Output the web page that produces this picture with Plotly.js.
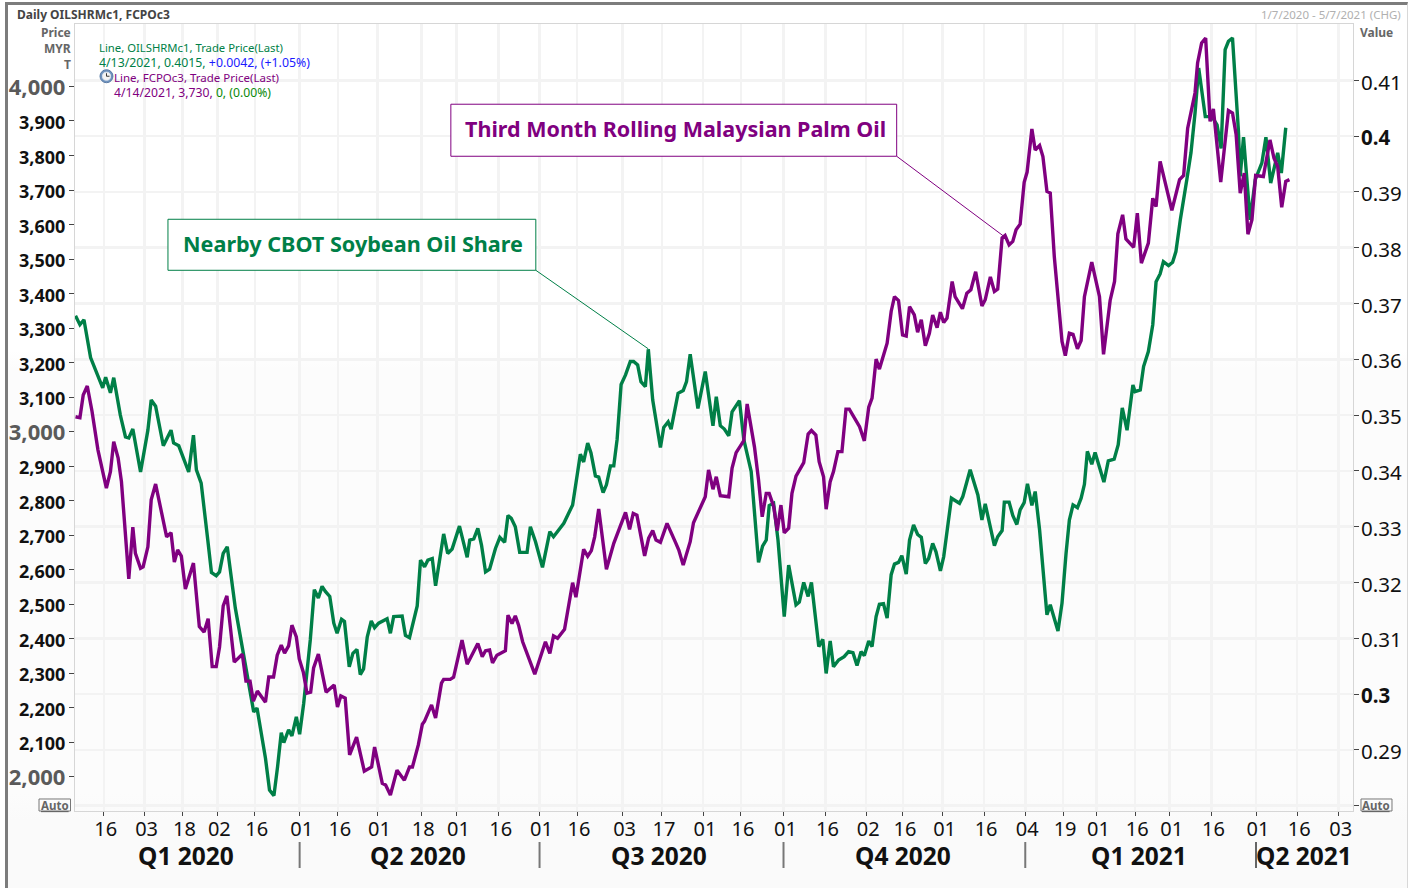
<!DOCTYPE html>
<html>
<head>
<meta charset="utf-8">
<title>OILSHRMc1 vs FCPOc3</title>
<script src="https://cdn.plot.ly/plotly-3.0.1.min.js"></script>
<style>
html,body{margin:0;padding:0;background:#fff;width:1419px;height:888px;overflow:hidden}
#frame{position:absolute;left:5px;top:2px;width:1399px;height:886px;box-sizing:content-box;border-top:3px solid #7c7c7c;border-left:3px solid #7c7c7c;border-right:1px solid #d8d8d8;
background:linear-gradient(#fff 0,#fff 39%,#fcfcfc 41%,#fcfcfc 89%,#fafafa 92%,#fafafa 100%)}
#chart{position:absolute;left:0;top:0;width:1419px;height:888px}
</style>
</head>
<body>
<div id="frame"></div>
<div id="chart"></div>
<script>
// x values are positions along the trading-session axis (0 = 1/7/2020)
const soyDays = [0,1.2,2.3,4.1,7.4,8.2,9.5,10.4,12.2,13.6,14.5,15.6,17.7,19.7,20.6,21.8,23.9,26,26.7,28.1,30.8,32.1,32.9,34.2,36,37,38.3,39.2,40.2,41.3,43.5,45.6,48.5,49.4,50.8,51.7,52.8,54,55,56,56.7,58,58.9,60.1,61,62.1,63.9,65,66.1,67.1,68,69.2,70.3,71.2,72.4,73.2,74.5,75.5,76.6,77.5,78.4,79.4,80.5,81.4,82.5,84.8,85.7,86.6,88.9,89.8,90.9,93,93.9,95,95.9,97.1,98,99.3,100.2,101.3,102.5,104.5,106.6,107.3,108.4,109.5,110.5,111.6,112.7,114.3,115.5,116.8,117.7,118.6,119.7,120.9,122.9,123.8,125.2,127.1,129.1,130.1,132.9,135.3,137.4,138.3,139.4,140.3,141.5,142.4,143.6,144.5,145.6,146.5,147.4,148.5,149.7,151,151.9,153,153.9,155.1,155.9,157.1,159.2,160.1,161.3,162.1,164,165.4,166.3,167.3,169.4,171.4,173.5,174.4,175.5,176.6,177.8,178.7,180.7,181.9,183.9,185.9,187,188,188.8,190,191.2,192.9,194.1,196.1,197,198.2,199.4,200.3,202.3,203.4,204.3,205.4,206.3,207.7,209.2,210.4,211.6,212.7,213.8,214.7,215.9,216.8,217.9,218.8,219.9,220.9,222,222.9,224,224.9,226.1,227,228.1,229.2,230.2,231.3,232.2,233.3,234.2,235.4,236.3,237.5,238.4,239.6,240.6,241.5,243.5,245.6,246.7,247.6,250.1,251,252.2,252.8,254.1,255.1,256.2,257.1,258.2,259.1,260.3,261.2,262.4,264.4,265.3,267.4,268.5,269.6,270.5,271.5,272.7,273.7,274.6,275.4,276.6,277.5,278.9,279.9,281.1,282.7,283.8,284.9,286.2,287.8,288.4,289.8,290.7,292,293.2,294.1,295.2,296.1,297.5,298.6,299.5,300.7,302.5,303.6,304.7,305.7,307.5,309.3,310.7,311.8,312.9,313.8,314.9,316.5,317,317.9,319.7,321.1,322.9,324,325.3,327.2,328.2,329.4];
const soyShare = [0.3678,0.3662,0.3671,0.3603,0.3549,0.3568,0.354,0.3567,0.35,0.3461,0.3459,0.3475,0.3398,0.3473,0.3527,0.3516,0.3445,0.3473,0.345,0.3445,0.3398,0.3464,0.3402,0.3378,0.3276,0.3218,0.3212,0.3219,0.3252,0.3264,0.3154,0.3073,0.2968,0.2975,0.2918,0.2885,0.2828,0.2818,0.287,0.2931,0.2913,0.2936,0.2925,0.2959,0.2928,0.2983,0.3097,0.3187,0.3172,0.3193,0.3184,0.3175,0.3127,0.3109,0.3134,0.313,0.3049,0.3073,0.308,0.3035,0.3045,0.3102,0.3131,0.3119,0.3127,0.3135,0.3109,0.3139,0.314,0.3105,0.3101,0.3158,0.324,0.3228,0.324,0.3243,0.3194,0.3252,0.3287,0.3252,0.326,0.3301,0.3245,0.3276,0.3278,0.3297,0.3267,0.3219,0.3224,0.3261,0.3281,0.3272,0.332,0.3315,0.33,0.3254,0.3254,0.33,0.3273,0.3227,0.3291,0.3282,0.3306,0.3339,0.343,0.3416,0.345,0.3432,0.3391,0.3389,0.3361,0.3375,0.3409,0.3409,0.3456,0.3555,0.3572,0.3596,0.3596,0.359,0.356,0.3551,0.3618,0.3527,0.3442,0.3478,0.3488,0.3475,0.3539,0.3544,0.356,0.3609,0.3512,0.3578,0.3481,0.3533,0.3481,0.3475,0.3463,0.3506,0.3526,0.3456,0.3399,0.3236,0.3265,0.3276,0.3338,0.3342,0.3276,0.3139,0.3231,0.316,0.3165,0.32,0.3175,0.32,0.3085,0.3098,0.3037,0.3095,0.3049,0.3061,0.3067,0.3076,0.3074,0.3051,0.3076,0.3069,0.3095,0.3085,0.3139,0.3161,0.3162,0.3136,0.3214,0.3233,0.3236,0.3248,0.3215,0.3276,0.3303,0.3286,0.3281,0.3234,0.3243,0.327,0.3255,0.3221,0.3246,0.3306,0.3351,0.3346,0.3342,0.3354,0.3402,0.3357,0.3312,0.3341,0.3266,0.3282,0.3293,0.3344,0.3344,0.332,0.3304,0.333,0.3343,0.3377,0.3338,0.3363,0.3294,0.3142,0.316,0.3113,0.3163,0.3252,0.3312,0.3339,0.3334,0.3351,0.3376,0.3435,0.3412,0.3433,0.3399,0.338,0.3418,0.3421,0.3447,0.3513,0.3473,0.3554,0.3542,0.3545,0.3587,0.3614,0.3662,0.3739,0.3753,0.3775,0.3768,0.3774,0.3793,0.385,0.3923,0.397,0.4041,0.4122,0.4035,0.4035,0.402,0.3978,0.4155,0.417,0.4176,0.4011,0.3928,0.3998,0.385,0.3922,0.3952,0.3998,0.3916,0.397,0.3934,0.4015];
const palmDays = [0,1.2,2.1,3.2,4.5,6.1,8.4,9.5,10.4,11.6,12.5,13.6,14.5,15.6,16.3,17.7,18.4,19.7,20.6,21.8,24,24.8,26,26.9,27.8,28.8,29.9,32.1,33.7,35,36.1,37.2,38.3,39.2,40.2,41.2,43.2,45.4,46.4,47.5,48.4,49.5,51.7,52.6,53.9,54.9,56,56.9,58,58.9,60.1,60.9,62,63,64,64.8,66.1,68.2,70.4,71.3,72.2,73.4,74.6,75.6,76.5,78.6,80.6,81.4,83.5,84.4,85.7,87.5,89.5,90.9,91.7,93.3,94.4,95,96.9,98,99.6,100.2,102,102.9,105.2,106.6,109.5,110.7,111.6,112.7,113.5,114.7,117,117.7,118.8,119.7,120.6,121.7,123.3,125,127.9,129.1,130.1,131.2,133.1,134.2,135.3,136.2,137.4,138.3,139.4,140.4,141.3,142.4,144.5,146.5,149.7,150.8,151.8,152.8,154.9,156,157.1,158,159.2,161,163.3,164.2,165.4,167.3,168.2,171.4,172.3,173.5,174.4,175.5,177.8,178.7,179.8,181.9,182.8,184.8,185.9,186.9,188,188.8,190,191,192,192.9,194.1,195,196.1,198.2,199.4,200.3,201.5,202.4,203.6,204.3,205.4,206.3,207.5,208.6,209.7,210.6,213.4,214.7,215.9,216.8,217.9,218.8,220.9,222,222.9,224,225.1,226.1,227,228.3,229.2,230.2,231.3,232.4,233.3,234.5,235.4,236.3,237.2,238.6,239.4,241.4,242.6,243.7,245,246.7,247.6,249,250.1,251,252.2,253,254.1,255.1,256,257.1,258.2,259,260.3,261.2,262.4,263.3,264.4,265.3,266.4,267.6,268.5,269.4,270.5,271.5,272.7,273.7,274.6,276.6,278.7,279.8,281.6,282.8,283.7,285,285.9,288,289,290.1,292,293.2,294.1,295.2,298.4,300.5,301.6,302.7,303.6,304.7,305.4,306.5,307.6,308.8,309.7,311.7,313.8,314.9,315.9,317,318.1,319.1,320.2,321.2,323.3,325.1,326.2,327.2,328.3,329.4,330.4];
const palmPrice = [3043,3040,3106,3132,3058,2947,2836,2884,2971,2923,2855,2686,2573,2723,2647,2604,2608,2666,2802,2848,2744,2695,2707,2622,2657,2639,2544,2619,2435,2419,2458,2319,2319,2376,2495,2524,2332,2355,2277,2277,2219,2248,2216,2289,2289,2352,2381,2358,2379,2439,2405,2341,2303,2242,2245,2315,2355,2245,2266,2202,2234,2228,2063,2089,2115,2016,2028,2086,1981,1976,1947,2019,1990,2028,2028,2092,2152,2161,2208,2170,2271,2282,2282,2288,2396,2326,2386,2348,2365,2367,2330,2352,2365,2468,2444,2466,2439,2391,2348,2297,2391,2357,2408,2401,2427,2502,2562,2520,2608,2659,2639,2655,2695,2776,2601,2676,2766,2717,2763,2758,2640,2691,2713,2686,2679,2734,2679,2657,2613,2681,2736,2811,2889,2833,2869,2814,2811,2894,2939,2974,3080,2955,2860,2753,2821,2821,2784,2713,2787,2707,2720,2821,2871,2910,2993,3003,2990,2913,2869,2775,2855,2884,2942,2942,3065,3065,3014,2973,3071,3097,3210,3181,3256,3348,3391,3380,3280,3277,3362,3338,3288,3324,3249,3285,3338,3301,3346,3316,3329,3435,3391,3356,3401,3411,3463,3364,3382,3448,3406,3413,3561,3568,3541,3551,3585,3601,3722,3752,3877,3816,3829,3797,3696,3691,3507,3362,3261,3220,3285,3282,3240,3264,3391,3491,3391,3224,3380,3435,3573,3628,3558,3534,3633,3488,3546,3676,3652,3783,3641,3730,3742,3879,3923,3981,4068,4126,4140,3899,3935,3723,3930,3923,3860,3691,3749,3572,3614,3742,3739,3845,3792,3768,3650,3725,3730];

const tickDays = [7.7,18.8,29.1,38.6,48.8,61,71.4,82.2,94.1,103.7,115.2,126.3,136.5,148.9,159.6,170.8,181.1,192.7,204.1,215.2,225.2,236,247.3,258.5,268.8,277.9,288.4,297.8,309.2,321.3,332.5,343.8];
const tickLabels = ['16','03','18','02','16','01','16','01','18','01','16','01','16','03','17','01','16','01','16','02','16','01','16','04','19','01','16','01','16','01','16','03'];
const quarterEdges = [61,126.3,192.7,258.5,321.3];
const quarterLabels = ['Q1 2020','Q2 2020','Q3 2020','Q4 2020','Q1 2021','Q2 2021'];
const priceTicks = [2000,2100,2200,2300,2400,2500,2600,2700,2800,2900,3000,3100,3200,3300,3400,3500,3600,3700,3800,3900,4000];
const shareTicks = [0.28,0.29,0.30,0.31,0.32,0.33,0.34,0.35,0.36,0.37,0.38,0.39,0.40,0.41];

const GREEN='#007f47', PURPLE='#800080', FONT='"Noto Sans", Tahoma, sans-serif';
const L=74.5,R=1353,T=24.3,B=811;
const px=x=>(x-L)/(R-L), py=y=>1-(y-T)/(B-T);

function priceText(v){
  const s=v.toLocaleString('en-US');
  return v%1000===0 ? '<span style="color:#5a5a5a;font-size:22px"><b>'+s+'</b></span>' : '<b>'+s+'</b>';
}
function shareText(v){
  if(v===0.28) return ' ';
  if(Math.abs(v-0.4)<1e-9) return '<b>0.4</b>';
  if(Math.abs(v-0.3)<1e-9) return '<b>0.3</b>';
  return v.toFixed(2);
}

const traces=[
 {x:soyDays,y:soyShare,yaxis:'y',type:'scatter',mode:'lines',line:{color:GREEN,width:3.4,shape:'linear'},hoverinfo:'skip',showlegend:false},
 {x:palmDays,y:palmPrice,yaxis:'y2',type:'scatter',mode:'lines',line:{color:PURPLE,width:3.4,shape:'linear'},hoverinfo:'skip',showlegend:false},
 {x:[349.4],y:[soyShare[soyShare.length-1]],yaxis:'y',type:'scatter',mode:'markers',cliponaxis:false,marker:{symbol:'diamond',size:7,color:GREEN},hoverinfo:'skip',showlegend:false},
 {x:[-1.6],y:[palmPrice[palmPrice.length-1]],yaxis:'y2',type:'scatter',mode:'markers',cliponaxis:false,marker:{symbol:'diamond',size:7,color:PURPLE},hoverinfo:'skip',showlegend:false}
];

function txt(x,y,text,size,color,anchor,extra){
  return Object.assign({xref:'paper',yref:'paper',x:px(x),y:py(y),text:text,showarrow:false,xanchor:anchor||'left',yanchor:'middle',
    font:{family:FONT,size:size,color:color},borderpad:0,borderwidth:0},extra||{});
}
const qCenters=[186,418,659,903,1139,1304];
const annotations=[
 txt(16,15,'<b>Daily OILSHRMc1, FCPOc3</b>',12,'#444'),
 txt(1401,15,'1/7/2020 - 5/7/2021 (CHG)',11.5,'#b0b0b0','right'),
 txt(70.5,32.5,'<b>Price</b>',12,'#666','right'),
 txt(70.5,48.5,'<b>MYR</b>',12,'#666','right'),
 txt(70.5,64.5,'<b>T</b>',12,'#666','right'),
 txt(1360,32.5,'<b>Value</b>',12,'#666'),
 txt(99,47.5,'Line, OILSHRMc1, Trade Price(Last)',11.3,GREEN),
 txt(99,62.5,'4/13/2021, 0.4015, <span style="color:#1a1aff">+0.0042, (+1.05%)</span>',12.3,GREEN),
 txt(114,77.5,'Line, FCPOc3, Trade Price(Last)',11.5,PURPLE),
 txt(114,92.5,'4/14/2021, 3,730, <span style="color:#0a8a0a">0, (0.00%)</span>',12.2,PURPLE),
 txt(352.5,244,'<b>Nearby CBOT Soybean Oil Share</b>',21.6,GREEN,'center'),
 txt(675.5,129,'<b>Third Month Rolling Malaysian Palm Oil</b>',21.5,PURPLE,'center'),
 txt(54.5,805.5,'<b><u>Auto</u></b>',11.5,'#666','center'),
 txt(1376.5,805.5,'<b><u>Auto</u></b>',11.5,'#666','center')
].concat(quarterLabels.map((q,i)=>txt(qCenters[i],855.5,'<b>'+q+'</b>',24.5,'#111','center')));

function box(x0,y0,x1,y1,line,fill,w){
  return {type:'rect',xref:'paper',yref:'paper',x0:px(x0),x1:px(x1),y0:py(y0),y1:py(y1),line:{color:line,width:w||1},fillcolor:fill||'rgba(0,0,0,0)'};
}
function seg(x0,y0,x1,y1,line,w){
  return {type:'line',xref:'paper',yref:'paper',x0:px(x0),x1:px(x1),y0:py(y0),y1:py(y1),line:{color:line,width:w||1}};
}
function circ(cx,cy,r,fill,line){
  return {type:'circle',xref:'paper',yref:'paper',x0:px(cx-r),x1:px(cx+r),y0:py(cy+r),y1:py(cy-r),fillcolor:fill,line:{color:line||fill,width:1}};
}
const shapes=[
 box(167.5,219.5,535.5,270.5,GREEN,'#fff'),
 seg(535.5,270.5,648,349,GREEN),
 box(450.5,104.5,896.5,156.5,PURPLE,'#fff'),
 seg(896.5,156.5,1003,236,PURPLE),
 box(38.5,799,70,811,'#777','rgba(0,0,0,0)'),
 box(1361,799,1392,811,'#777','rgba(0,0,0,0)'),
 circ(106,76.5,6.5,'#6f93bf','#5b7ca6'),
 circ(106,76.5,4,'#f4f4f4','#dfe6ee'),
 seg(106,76.5,106,73.5,'#333',1),
 seg(106,76.5,109,76.5,'#333',1)
].concat(quarterEdges.map((d,i)=>({type:'line',xref:'x',yref:'paper',x0:d,x1:d,y0:py(842),y1:py(868),line:{color:i===4?'#333':'#777',width:i===4?1.5:2}})));

const layout={
 width:1419,height:888,autosize:false,
 margin:{l:L,r:1419-R,t:T,b:888-B,pad:0},
 paper_bgcolor:'rgba(0,0,0,0)',plot_bgcolor:'rgba(0,0,0,0)',
 showlegend:false,hovermode:false,
 font:{family:FONT},
 xaxis:{type:'linear',range:[-0.14,347.7],tickmode:'array',tickvals:tickDays,ticktext:tickLabels,
   showgrid:true,gridcolor:'#f3f3f3',gridwidth:2.6,zeroline:false,
   ticks:'outside',ticklen:4,tickwidth:1,tickcolor:'#444',tickfont:{family:FONT,size:20,color:'#111'},
   ticklabelshift:2,ticklabelstandoff:-4,
   showline:true,linecolor:'#d6d6d6',linewidth:1,mirror:true,tickangle:0},
 yaxis:{side:'right',range:[0.27904,0.4201],tickmode:'array',tickvals:shareTicks,ticktext:shareTicks.map(shareText),
   showgrid:true,gridcolor:'#f3f3f3',gridwidth:2.6,zeroline:false,
   ticks:'outside',ticklen:5,tickwidth:1,tickcolor:'#444',tickfont:{family:FONT,size:20.5,color:'#111'},
   ticklabelshift:2,ticklabelstandoff:-2,
   showline:true,linecolor:'#d6d6d6',linewidth:1},
 yaxis2:{side:'left',overlaying:'y',range:[1900.6,4181],tickmode:'array',tickvals:priceTicks,ticktext:priceTicks.map(priceText),
   showgrid:false,zeroline:false,ticks:'outside',ticklen:5,tickwidth:1,tickcolor:'#444',
   ticklabelshift:2,ticklabelstandoff:0,
   tickfont:{family:FONT,size:18,color:'#111'},showline:true,linecolor:'#d6d6d6',linewidth:1},
 annotations:annotations,shapes:shapes
};
Plotly.newPlot('chart',traces,layout,{displayModeBar:false,staticPlot:true,responsive:false});
</script>
</body>
</html>
